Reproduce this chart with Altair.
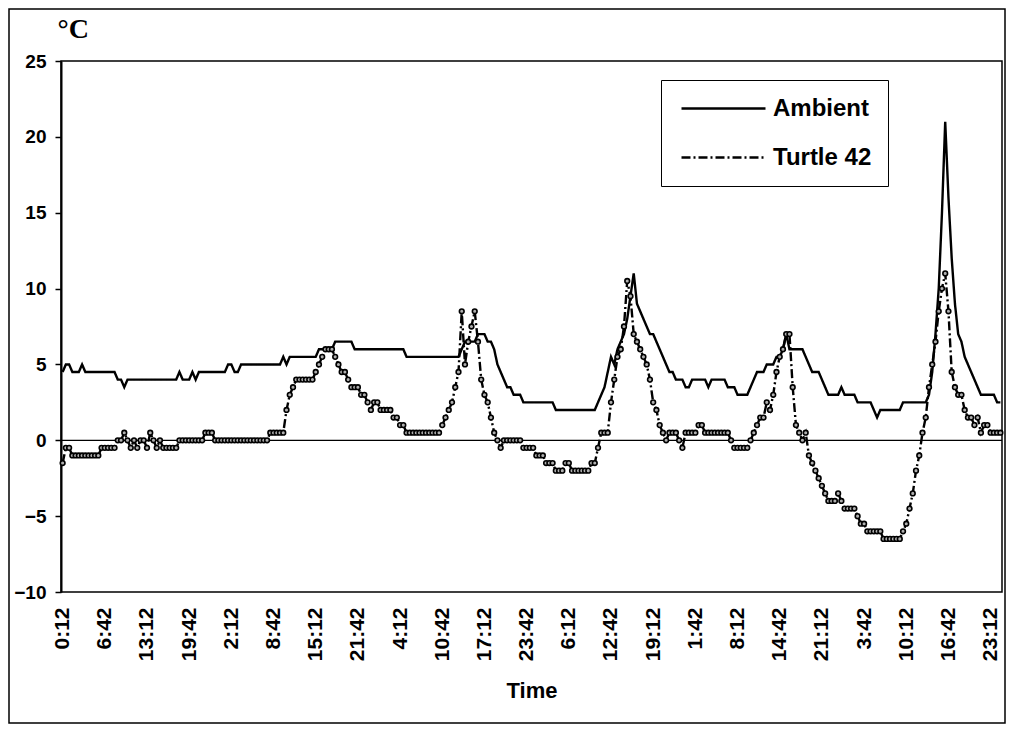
import altair as alt
import pandas as pd

# ---- data (30-minute readings, starting 0:12) ----
tick_labels = ["0:12", "6:42", "13:12", "19:42", "2:12", "8:42", "15:12", "21:42",
               "4:12", "10:42", "17:12", "23:42", "6:12", "12:42", "19:12", "1:42",
               "8:12", "14:42", "21:12", "3:42", "10:12", "16:42", "23:12"]
series_names = ["Ambient", "Turtle 42"]
y_ticks = [-10, -5, 0, 5, 10, 15, 20, 25]

ambient = [
    4.5, 5, 5, 4.5, 4.5, 4.5, 5, 4.5, 4.5, 4.5, 4.5, 4.5, 4.5,
    4.5, 4.5, 4.5, 4.5, 4, 4, 3.5, 4, 4, 4, 4, 4, 4,
    4, 4, 4, 4, 4, 4, 4, 4, 4, 4, 4.5, 4, 4,
    4, 4.5, 4, 4.5, 4.5, 4.5, 4.5, 4.5, 4.5, 4.5, 4.5, 4.5, 5,
    5, 4.5, 4.5, 5, 5, 5, 5, 5, 5, 5, 5, 5, 5,
    5, 5, 5, 5.5, 5, 5.5, 5.5, 5.5, 5.5, 5.5, 5.5, 5.5, 5.5,
    5.5, 6, 6, 6, 6, 6, 6.5, 6.5, 6.5, 6.5, 6.5, 6.5, 6,
    6, 6, 6, 6, 6, 6, 6, 6, 6, 6, 6, 6, 6,
    6, 6, 5.5, 5.5, 5.5, 5.5, 5.5, 5.5, 5.5, 5.5, 5.5, 5.5, 5.5,
    5.5, 5.5, 5.5, 5.5, 5.5, 5.5, 6, 6.5, 6.5, 6.5, 6.5, 7, 7,
    7, 6.5, 6.5, 6, 5, 4.5, 4, 3.5, 3.5, 3, 3, 3, 2.5,
    2.5, 2.5, 2.5, 2.5, 2.5, 2.5, 2.5, 2.5, 2.5, 2, 2, 2, 2,
    2, 2, 2, 2, 2, 2, 2, 2, 2, 2.5, 3, 3.5, 4.5,
    5.5, 5, 6, 6.5, 7, 8, 9.5, 11, 9, 8.5, 8, 7.5, 7,
    7, 6.5, 6, 5.5, 5, 4.5, 4.5, 4, 4, 4, 3.5, 3.5, 4,
    4, 4, 4, 4, 3.5, 4, 4, 4, 4, 4, 3.5, 3.5, 3.5,
    3, 3, 3, 3, 3.5, 4, 4.5, 4.5, 4.5, 5, 5, 5, 5.5,
    5.5, 6, 7, 6, 6, 6, 6, 6, 5.5, 5, 4.5, 4.5, 4.5,
    4, 3.5, 3, 3, 3, 3, 3.5, 3, 3, 3, 3, 2.5, 2.5,
    2.5, 2.5, 2.5, 2, 1.5, 2, 2, 2, 2, 2, 2, 2, 2.5,
    2.5, 2.5, 2.5, 2.5, 2.5, 2.5, 2.5, 3, 4.5, 7, 10, 15, 21,
    16, 12, 9, 7, 6.5, 5.5, 5, 4.5, 4, 3.5, 3, 3, 3,
    3, 3, 2.5, 2.5,
]

turtle = [
    -1.5, -0.5, -0.5, -1, -1, -1, -1, -1, -1, -1, -1, -1, -0.5,
    -0.5, -0.5, -0.5, -0.5, 0, 0, 0.5, 0, -0.5, 0, -0.5, 0, 0,
    -0.5, 0.5, 0, -0.5, 0, -0.5, -0.5, -0.5, -0.5, -0.5, 0, 0, 0,
    0, 0, 0, 0, 0, 0.5, 0.5, 0.5, 0, 0, 0, 0, 0,
    0, 0, 0, 0, 0, 0, 0, 0, 0, 0, 0, 0, 0.5,
    0.5, 0.5, 0.5, 0.5, 2, 3, 3.5, 4, 4, 4, 4, 4, 4,
    4.5, 5, 5.5, 6, 6, 6, 5.5, 5, 4.5, 4.5, 4, 3.5, 3.5,
    3.5, 3, 3, 2.5, 2, 2.5, 2.5, 2, 2, 2, 2, 1.5, 1.5,
    1, 1, 0.5, 0.5, 0.5, 0.5, 0.5, 0.5, 0.5, 0.5, 0.5, 0.5, 0.5,
    1, 1.5, 2, 2.5, 3.5, 4.5, 8.5, 5, 6.5, 7.5, 8.5, 6.5, 4,
    3, 2.5, 1.5, 0.5, 0, -0.5, 0, 0, 0, 0, 0, 0, -0.5,
    -0.5, -0.5, -0.5, -1, -1, -1, -1.5, -1.5, -1.5, -2, -2, -2, -1.5,
    -1.5, -2, -2, -2, -2, -2, -2, -1.5, -1.5, -0.5, 0.5, 0.5, 0.5,
    2.5, 4, 5.5, 6, 7.5, 10.5, 9.5, 7, 6.5, 6, 5.5, 5, 4,
    2.5, 2, 1, 0.5, 0, 0.5, 0.5, 0.5, 0, -0.5, 0.5, 0.5, 0.5,
    0.5, 1, 1, 0.5, 0.5, 0.5, 0.5, 0.5, 0.5, 0.5, 0.5, 0, -0.5,
    -0.5, -0.5, -0.5, -0.5, 0, 0.5, 1, 1.5, 1.5, 2.5, 2, 3, 4.5,
    5.5, 6, 7, 7, 3.5, 1, 0.5, 0, 0.5, -1, -1.5, -2, -2.5,
    -3, -3.5, -4, -4, -4, -3.5, -4, -4.5, -4.5, -4.5, -4.5, -5, -5.5,
    -5.5, -6, -6, -6, -6, -6, -6.5, -6.5, -6.5, -6.5, -6.5, -6.5, -6,
    -5.5, -4.5, -3.5, -2, -1, 0.5, 1.5, 3.5, 5, 6.5, 8.5, 10, 11,
    8.5, 4.5, 3.5, 3, 3, 2, 1.5, 1.5, 1, 1.5, 0.5, 1, 1,
    0.5, 0.5, 0.5, 0.5,
]

n = len(ambient)
assert n == len(turtle)

df = pd.DataFrame({
    "idx": list(range(n)) * 2,
    "temp": ambient + turtle,
    "series": [series_names[0]] * n + [series_names[1]] * n,
})

label_expr = "[" + ",".join(f"'{t}'" for t in tick_labels) + "][round(datum.value / 13)]"
tick_vals = [13 * k for k in range(len(tick_labels))]

SANS = "Liberation Sans"

x_enc = alt.X(
    "idx:Q",
    scale=alt.Scale(domain=[-0.5, n - 0.5], nice=False, zero=False),
    axis=alt.Axis(
        values=tick_vals, labelExpr=label_expr, labelAngle=-90,
        ticks=False, tickSize=0, domain=False, grid=False,
        labelPadding=15, labelFont=SANS, labelFontSize=21, labelFontWeight="bold",
        labelColor="black", labelFlush=False, labelOverlap=False,
        title="Time", titleFont=SANS, titleFontSize=22, titleFontWeight="bold",
        titleColor="black", titleY=105, titleBaseline="alphabetic",
    ),
)

y_enc = alt.Y(
    "temp:Q",
    scale=alt.Scale(domain=[-10, 25], nice=False, zero=False),
    axis=alt.Axis(
        values=y_ticks, grid=False,
        domainColor="black", domainWidth=2,
        tickColor="black", tickWidth=1.5, tickSize=6,
        labelPadding=9, labelFont=SANS, labelFontSize=19, labelFontWeight="bold",
        labelColor="black", labelFlush=False,
        title="°C", titleAngle=0, titleX=-4, titleY=-24, titleAlign="left",
        titleBaseline="alphabetic", titleFont="Liberation Serif", titleFontSize=28,
        titleFontWeight="bold", titleColor="black",
    ),
)

base = alt.Chart(df)

lines = base.mark_line(color="black", strokeWidth=2.4).encode(
    x=x_enc,
    y=y_enc,
    strokeDash=alt.StrokeDash(
        "series:N",
        scale=alt.Scale(domain=series_names, range=[[1, 0], [9, 3, 2, 3]]),
        legend=alt.Legend(
            title=None, orient="none", legendX=600, legendY=19,
            symbolType="stroke", symbolSize=7056, symbolStrokeWidth=2.4,
            symbolStrokeColor="black", clipHeight=25, rowPadding=24, padding=16,
            strokeColor="black", fillColor="white",
            labelFont=SANS, labelFontSize=24, labelFontWeight="bold",
            labelColor="black", labelOffset=6, symbolOffset=3,
        ),
    ),
)

pts = base.transform_filter(alt.datum.series == series_names[1]).mark_point(
    shape="circle", size=22, filled=True, fill="#b0b0b0", stroke="black",
    strokeWidth=1.6, opacity=1,
).encode(x=x_enc, y=y_enc)

zero = alt.Chart(alt.Data(values=[{}])).mark_rule(color="black", strokeWidth=1.2).encode(
    y=alt.datum(0)
)

frame = alt.Chart(alt.Data(values=[{}])).mark_rect(
    fill="transparent", stroke="black", strokeWidth=1.5
).encode(
    x=alt.value(-52), x2=alt.value(944), y=alt.value(-52), y2=alt.value(662)
)

chart = alt.layer(frame, zero, lines, pts).properties(
    width=941, height=531,
    autosize=alt.AutoSizeParams(type="none"),
    padding={"left": 53, "top": 53, "right": 4, "bottom": 133},
    background="white",
).configure_view(stroke="black", strokeWidth=1.5)

chart.save("out.html", embed_options={"renderer": "svg", "actions": False})
